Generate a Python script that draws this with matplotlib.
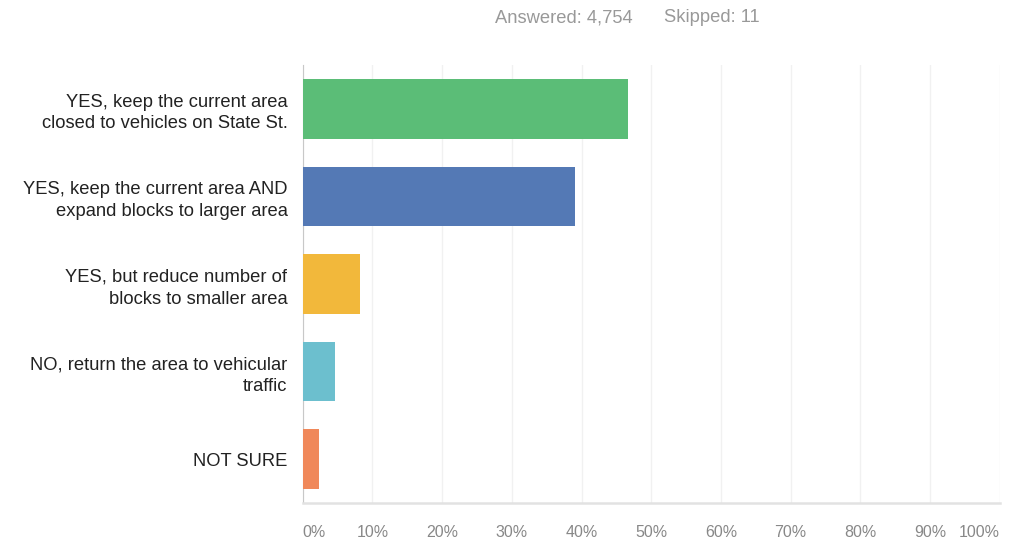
import matplotlib
matplotlib.use("Agg")
import matplotlib.pyplot as plt
from matplotlib.ticker import FixedLocator

plt.rcParams['font.family'] = ['Liberation Sans', 'DejaVu Sans']

choices = [
    "YES, keep the current area\nclosed to vehicles on State St.",
    "YES, keep the current area AND\nexpand blocks to larger area",
    "YES, but reduce number of\nblocks to smaller area",
    "NO, return the area to vehicular\ntraffic",
    "NOT SURE",
]
shares = [46.6, 39.0, 8.2, 4.6, 2.3]
bar_colors = ["#5bbd77", "#5479b5", "#f2b83b", "#6cbfce", "#f0885a"]
tick_pcts = [0, 10, 20, 30, 40, 50, 60, 70, 80, 90, 100]
answered = "4,754"
skipped = "11"

fig = plt.figure(figsize=(10.16, 5.43), dpi=100)
ax = fig.add_axes([0.298, 0.074, 0.686, 0.806])

pos = list(range(len(choices)))
ax.barh(pos, shares, height=0.68, color=bar_colors, zorder=3)
ax.set_ylim(len(choices) - 0.5, -0.5)
ax.set_xlim(0, 100)

ax.set_yticks(pos)
ax.set_yticklabels(choices, fontsize=13.2, color="#222222", linespacing=1.35)
ax.tick_params(axis='y', length=0, pad=11)

ax.xaxis.set_major_locator(FixedLocator(tick_pcts))
ax.set_xticklabels([f"{t}%" for t in tick_pcts], fontsize=11.5, color="#888888")
ax.tick_params(axis='x', length=0, pad=16)
labels = ax.get_xticklabels()
labels[0].set_horizontalalignment('left')
labels[-1].set_horizontalalignment('right')

ax.grid(axis='x', color="#f1f1f1", linewidth=1, zorder=0)
for side in ("top", "right"):
    ax.spines[side].set_visible(False)
ax.spines['left'].set_color("#c8c8c8")
ax.spines['bottom'].set_color("#e2e2e2")
ax.spines['bottom'].set_linewidth(1.8)

fig.text(0.487, 0.967, f"Answered: {answered}", fontsize=13.2, color="#999999",
         ha='left', va='center')
fig.text(0.654, 0.967, f"Skipped: {skipped}", fontsize=13.2, color="#999999",
         ha='left', va='center')

fig.savefig("out.png", dpi=100)
